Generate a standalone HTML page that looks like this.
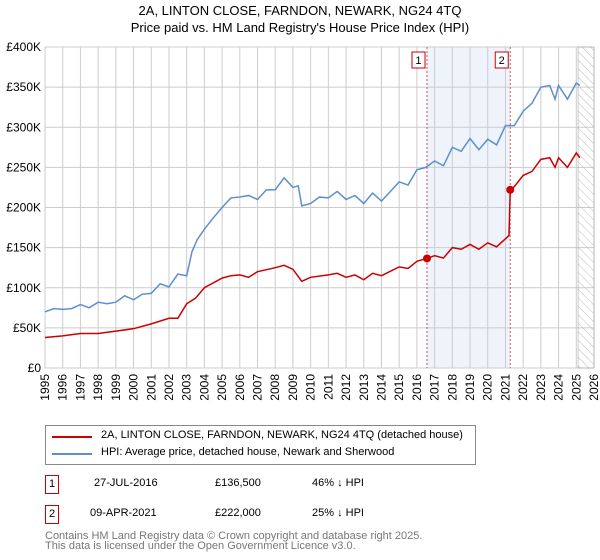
<!DOCTYPE html>
<html><head><meta charset="utf-8"><style>
body{margin:0;background:#fff;font-family:"Liberation Sans","DejaVu Sans",sans-serif;}
#w{position:relative;width:600px;height:560px;overflow:hidden}
.t{position:absolute;font-size:11px;color:#000;white-space:nowrap}
</style></head><body><div id="w">
<div class="t" style="left:0;width:600px;text-align:center;top:3px;font-size:13px">2A, LINTON CLOSE, FARNDON, NEWARK, NG24 4TQ</div>
<div class="t" style="left:0;width:600px;text-align:center;top:20px;font-size:13px">Price paid vs. HM Land Registry's House Price Index (HPI)</div>
<svg id="c" width="600" height="420" style="position:absolute;left:0;top:0"></svg>
<div style="position:absolute;left:45px;top:425px;width:429px;height:38px;border:1px solid #888;">
 <div style="position:absolute;left:6px;top:10px;width:40px;height:2px;background:#cc0000"></div>
 <div class="t" style="left:55px;top:3px">2A, LINTON CLOSE, FARNDON, NEWARK, NG24 4TQ (detached house)</div>
 <div style="position:absolute;left:6px;top:27px;width:40px;height:2px;background:#5b8fd0"></div>
 <div class="t" style="left:55px;top:20px">HPI: Average price, detached house, Newark and Sherwood</div>
</div>
<div>
<div class="t" style="left:45px;top:475px;width:12px;height:17px;border:1px solid #cc0000;text-align:center;line-height:17px">1</div>
<div class="t" style="left:94px;top:477px">27-JUL-2016</div>
<div class="t" style="left:215px;top:477px">£136,500</div>
<div class="t" style="left:312px;top:477px">46% ↓ HPI</div></div>
<div>
<div class="t" style="left:45px;top:505px;width:12px;height:17px;border:1px solid #cc0000;text-align:center;line-height:17px">2</div>
<div class="t" style="left:90px;top:507px">09-APR-2021</div>
<div class="t" style="left:215px;top:507px">£222,000</div>
<div class="t" style="left:312px;top:507px">25% ↓ HPI</div></div>
<div class="t" style="left:45px;top:531px;color:#777;line-height:10px">Contains HM Land Registry data © Crown copyright and database right 2025.<br>This data is licensed under the Open Government Licence v3.0.</div>
</div>
<script>
const hpiYears=[1995,1995.5,1996,1996.5,1997,1997.5,1998,1998.5,1999,1999.5,2000,2000.5,2001,2001.5,2002,2002.5,2003,2003.3,2003.6,2004,2004.5,2005,2005.5,2006,2006.5,2007,2007.5,2008,2008.5,2009,2009.3,2009.5,2010,2010.5,2011,2011.5,2012,2012.5,2013,2013.5,2014,2014.5,2015,2015.5,2016,2016.5,2017,2017.5,2018,2018.5,2019,2019.5,2020,2020.5,2021,2021.5,2022,2022.5,2023,2023.5,2023.8,2024,2024.5,2025,2025.2];
const hpiValues=[70,74,73,74,79,75,82,80,82,90,85,92,93,105,101,117,115,145,160,173,187,200,212,213,215,210,222,222,237,225,227,202,205,213,212,220,210,215,205,218,208,220,232,228,247,250,258,252,275,270,286,272,285,278,302,302,320,330,350,352,335,352,335,355,352];
const redYears=[1995,1996,1997,1998,1999,2000,2001,2002,2002.5,2003,2003.5,2004,2005,2005.5,2006,2006.5,2007,2008,2008.5,2009,2009.5,2010,2011,2011.5,2012,2012.5,2013,2013.5,2014,2015,2015.5,2016,2016.57,2017,2017.5,2018,2018.5,2019,2019.5,2020,2020.5,2021.2,2021.27,2021.5,2022,2022.5,2023,2023.5,2023.8,2024,2024.5,2025,2025.2];
const redValues=[38,40,43,43,46,49,55,62,62,80,87,100,112,115,116,113,120,125,128,123,108,113,116,118,113,116,110,118,115,126,124,133,136.5,140,137,150,148,154,148,156,151,165,222,226,240,245,260,262,250,262,250,268,262];
const saleYears=[2016.57,2021.27];
const saleValues=[136.5,222];
const saleLabels=["1","2"];
const yTicks=[0,50,100,150,200,250,300,350,400];
const yTickLabels=["£0","£50K","£100K","£150K","£200K","£250K","£300K","£350K","£400K"];
const X0=45,X1=594,Y0=368,Y1=47;
const xs=y=>X0+(y-1995)/31*(X1-X0);
const ys=v=>Y0-v/400*(Y0-Y1);
const svg=document.getElementById('c');const NS='http://www.w3.org/2000/svg';
function mk(t,a,p){const e=document.createElementNS(NS,t);for(const k in a)e.setAttribute(k,a[k]);(p||svg).appendChild(e);return e;}
let e=mk('defs',{});
const pat=mk('pattern',{id:'h',width:6,height:6,patternUnits:'userSpaceOnUse',patternTransform:'rotate(-45)'},e);
mk('line',{x1:0,y1:0,x2:0,y2:6,stroke:'#bbb','stroke-width':1},pat);
e=mk('rect',{x:xs(saleYears[0]),y:Y1,width:xs(saleYears[1])-xs(saleYears[0]),height:Y0-Y1,fill:'#eef3fc'});

for(let y=1995;y<=2026;y++){e=mk('line',{x1:xs(y),x2:xs(y),y1:Y1,y2:Y0,stroke:'#ccc'});
 e=mk('text',{x:0,y:0,transform:`translate(${xs(y)+4},${Y0+6}) rotate(-90)`,'text-anchor':'end','font-size':12,'font-family':'Liberation Sans'});e.textContent=y;
 }
yTicks.forEach((v,i)=>{e=mk('line',{x1:X0,x2:X1,y1:ys(v),y2:ys(v),stroke:'#ccc'});
 e=mk('text',{x:X0-4,y:ys(v)+4,'text-anchor':'end','font-size':12,'font-family':'Liberation Sans'});e.textContent=yTickLabels[i];
 });
e=mk('rect',{x:xs(2025.1),y:Y1,width:X1-xs(2025.1),height:Y0-Y1,fill:'url(#h)',stroke:'#999','stroke-width':0.5});

saleYears.forEach((y,i)=>{e=mk('line',{x1:xs(y),x2:xs(y),y1:Y1,y2:Y0,stroke:'#e05050','stroke-dasharray':'2,2'});
 mk('rect',{x:xs(y)-15,y:52,width:13,height:16,fill:'#fff',stroke:'#cc0000'});
 e=mk('text',{x:xs(y)-8.5,y:64,'text-anchor':'middle','font-size':11,'font-family':'Liberation Sans'});e.textContent=saleLabels[i];
 });
e=mk('polyline',{points:hpiYears.map((y,i)=>xs(y)+','+ys(hpiValues[i])).join(' '),fill:'none',stroke:'#5b8fd0','stroke-width':1.5});

e=mk('polyline',{points:redYears.map((y,i)=>xs(y)+','+ys(redValues[i])).join(' '),fill:'none',stroke:'#cc0000','stroke-width':1.5});

saleYears.forEach((y,i)=>{e=mk('circle',{cx:xs(y),cy:ys(saleValues[i]),r:4,fill:'#cc0000'});});
</script></body></html>
